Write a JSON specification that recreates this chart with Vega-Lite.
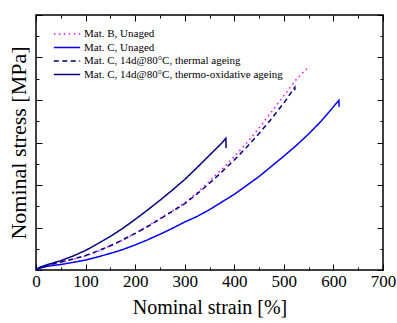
{
  "$schema": "https://vega.github.io/schema/vega-lite/v6.json",
  "autosize": "none",
  "padding": {"left": 36, "top": 15, "right": 14, "bottom": 53},
  "width": 347,
  "height": 255,
  "config": {
    "view": {"stroke": "black", "strokeWidth": 1.5},
    "font": "Liberation Serif",
    "axis": {"grid": false, "domain": false, "tickColor": "black", "labelColor": "black", "titleColor": "black", "labelFont": "Liberation Serif", "titleFont": "Liberation Serif", "titleFontWeight": "normal"},
    "legend": {"labelFont": "Liberation Serif", "labelFontSize": 11, "labelColor": "black"}
  },
  "datasets": {
    "curves": [
      {"s": "Mat. B, Unaged", "x": 0, "y": 0},
      {"s": "Mat. B, Unaged", "x": 5, "y": 0.04},
      {"s": "Mat. B, Unaged", "x": 10, "y": 0.06},
      {"s": "Mat. B, Unaged", "x": 20, "y": 0.09},
      {"s": "Mat. B, Unaged", "x": 30, "y": 0.12},
      {"s": "Mat. B, Unaged", "x": 50, "y": 0.18},
      {"s": "Mat. B, Unaged", "x": 75, "y": 0.25},
      {"s": "Mat. B, Unaged", "x": 100, "y": 0.33},
      {"s": "Mat. B, Unaged", "x": 125, "y": 0.44},
      {"s": "Mat. B, Unaged", "x": 150, "y": 0.57},
      {"s": "Mat. B, Unaged", "x": 175, "y": 0.71},
      {"s": "Mat. B, Unaged", "x": 200, "y": 0.86},
      {"s": "Mat. B, Unaged", "x": 225, "y": 1.03},
      {"s": "Mat. B, Unaged", "x": 250, "y": 1.21},
      {"s": "Mat. B, Unaged", "x": 275, "y": 1.39},
      {"s": "Mat. B, Unaged", "x": 300, "y": 1.58},
      {"s": "Mat. B, Unaged", "x": 325, "y": 1.82},
      {"s": "Mat. B, Unaged", "x": 350, "y": 2.09},
      {"s": "Mat. B, Unaged", "x": 375, "y": 2.37},
      {"s": "Mat. B, Unaged", "x": 400, "y": 2.67},
      {"s": "Mat. B, Unaged", "x": 425, "y": 2.99},
      {"s": "Mat. B, Unaged", "x": 450, "y": 3.34},
      {"s": "Mat. B, Unaged", "x": 475, "y": 3.72},
      {"s": "Mat. B, Unaged", "x": 500, "y": 4.1},
      {"s": "Mat. B, Unaged", "x": 525, "y": 4.48},
      {"s": "Mat. B, Unaged", "x": 540, "y": 4.67},
      {"s": "Mat. B, Unaged", "x": 549, "y": 4.76},
      {"s": "Mat. C, Unaged", "x": 0, "y": 0},
      {"s": "Mat. C, Unaged", "x": 5, "y": 0.03},
      {"s": "Mat. C, Unaged", "x": 10, "y": 0.05},
      {"s": "Mat. C, Unaged", "x": 20, "y": 0.08},
      {"s": "Mat. C, Unaged", "x": 30, "y": 0.1},
      {"s": "Mat. C, Unaged", "x": 50, "y": 0.13},
      {"s": "Mat. C, Unaged", "x": 75, "y": 0.18},
      {"s": "Mat. C, Unaged", "x": 100, "y": 0.235},
      {"s": "Mat. C, Unaged", "x": 125, "y": 0.31},
      {"s": "Mat. C, Unaged", "x": 150, "y": 0.39},
      {"s": "Mat. C, Unaged", "x": 175, "y": 0.48},
      {"s": "Mat. C, Unaged", "x": 200, "y": 0.59},
      {"s": "Mat. C, Unaged", "x": 225, "y": 0.71},
      {"s": "Mat. C, Unaged", "x": 250, "y": 0.84},
      {"s": "Mat. C, Unaged", "x": 275, "y": 0.98},
      {"s": "Mat. C, Unaged", "x": 300, "y": 1.13},
      {"s": "Mat. C, Unaged", "x": 325, "y": 1.26},
      {"s": "Mat. C, Unaged", "x": 350, "y": 1.42},
      {"s": "Mat. C, Unaged", "x": 375, "y": 1.6},
      {"s": "Mat. C, Unaged", "x": 400, "y": 1.78},
      {"s": "Mat. C, Unaged", "x": 425, "y": 1.99},
      {"s": "Mat. C, Unaged", "x": 450, "y": 2.2},
      {"s": "Mat. C, Unaged", "x": 475, "y": 2.44},
      {"s": "Mat. C, Unaged", "x": 500, "y": 2.68},
      {"s": "Mat. C, Unaged", "x": 525, "y": 2.93},
      {"s": "Mat. C, Unaged", "x": 550, "y": 3.2},
      {"s": "Mat. C, Unaged", "x": 575, "y": 3.5},
      {"s": "Mat. C, Unaged", "x": 600, "y": 3.84},
      {"s": "Mat. C, Unaged", "x": 611, "y": 3.99},
      {"s": "Mat. C, Unaged", "x": 611.5, "y": 3.84},
      {"s": "Mat. C, 14d@80°C, thermal ageing", "x": 0, "y": 0},
      {"s": "Mat. C, 14d@80°C, thermal ageing", "x": 5, "y": 0.045},
      {"s": "Mat. C, 14d@80°C, thermal ageing", "x": 10, "y": 0.07},
      {"s": "Mat. C, 14d@80°C, thermal ageing", "x": 20, "y": 0.1},
      {"s": "Mat. C, 14d@80°C, thermal ageing", "x": 30, "y": 0.13},
      {"s": "Mat. C, 14d@80°C, thermal ageing", "x": 50, "y": 0.19},
      {"s": "Mat. C, 14d@80°C, thermal ageing", "x": 75, "y": 0.26},
      {"s": "Mat. C, 14d@80°C, thermal ageing", "x": 100, "y": 0.34},
      {"s": "Mat. C, 14d@80°C, thermal ageing", "x": 125, "y": 0.45},
      {"s": "Mat. C, 14d@80°C, thermal ageing", "x": 150, "y": 0.57},
      {"s": "Mat. C, 14d@80°C, thermal ageing", "x": 175, "y": 0.71},
      {"s": "Mat. C, 14d@80°C, thermal ageing", "x": 200, "y": 0.86},
      {"s": "Mat. C, 14d@80°C, thermal ageing", "x": 225, "y": 1.02},
      {"s": "Mat. C, 14d@80°C, thermal ageing", "x": 250, "y": 1.2},
      {"s": "Mat. C, 14d@80°C, thermal ageing", "x": 275, "y": 1.38},
      {"s": "Mat. C, 14d@80°C, thermal ageing", "x": 300, "y": 1.56},
      {"s": "Mat. C, 14d@80°C, thermal ageing", "x": 325, "y": 1.79},
      {"s": "Mat. C, 14d@80°C, thermal ageing", "x": 350, "y": 2.04},
      {"s": "Mat. C, 14d@80°C, thermal ageing", "x": 375, "y": 2.31},
      {"s": "Mat. C, 14d@80°C, thermal ageing", "x": 400, "y": 2.59},
      {"s": "Mat. C, 14d@80°C, thermal ageing", "x": 425, "y": 2.89},
      {"s": "Mat. C, 14d@80°C, thermal ageing", "x": 450, "y": 3.21},
      {"s": "Mat. C, 14d@80°C, thermal ageing", "x": 475, "y": 3.56},
      {"s": "Mat. C, 14d@80°C, thermal ageing", "x": 500, "y": 3.93},
      {"s": "Mat. C, 14d@80°C, thermal ageing", "x": 522, "y": 4.3},
      {"s": "Mat. C, 14d@80°C, thermal ageing", "x": 522.5, "y": 4.16},
      {"s": "Mat. C, 14d@80°C, thermo-oxidative ageing", "x": 0, "y": 0},
      {"s": "Mat. C, 14d@80°C, thermo-oxidative ageing", "x": 5, "y": 0.045},
      {"s": "Mat. C, 14d@80°C, thermo-oxidative ageing", "x": 10, "y": 0.075},
      {"s": "Mat. C, 14d@80°C, thermo-oxidative ageing", "x": 20, "y": 0.115},
      {"s": "Mat. C, 14d@80°C, thermo-oxidative ageing", "x": 30, "y": 0.15},
      {"s": "Mat. C, 14d@80°C, thermo-oxidative ageing", "x": 50, "y": 0.22},
      {"s": "Mat. C, 14d@80°C, thermo-oxidative ageing", "x": 75, "y": 0.33},
      {"s": "Mat. C, 14d@80°C, thermo-oxidative ageing", "x": 100, "y": 0.46},
      {"s": "Mat. C, 14d@80°C, thermo-oxidative ageing", "x": 125, "y": 0.62},
      {"s": "Mat. C, 14d@80°C, thermo-oxidative ageing", "x": 150, "y": 0.79},
      {"s": "Mat. C, 14d@80°C, thermo-oxidative ageing", "x": 175, "y": 0.98},
      {"s": "Mat. C, 14d@80°C, thermo-oxidative ageing", "x": 200, "y": 1.19},
      {"s": "Mat. C, 14d@80°C, thermo-oxidative ageing", "x": 225, "y": 1.41},
      {"s": "Mat. C, 14d@80°C, thermo-oxidative ageing", "x": 250, "y": 1.64},
      {"s": "Mat. C, 14d@80°C, thermo-oxidative ageing", "x": 275, "y": 1.88},
      {"s": "Mat. C, 14d@80°C, thermo-oxidative ageing", "x": 300, "y": 2.13},
      {"s": "Mat. C, 14d@80°C, thermo-oxidative ageing", "x": 325, "y": 2.41},
      {"s": "Mat. C, 14d@80°C, thermo-oxidative ageing", "x": 350, "y": 2.7},
      {"s": "Mat. C, 14d@80°C, thermo-oxidative ageing", "x": 375, "y": 2.99},
      {"s": "Mat. C, 14d@80°C, thermo-oxidative ageing", "x": 383, "y": 3.1},
      {"s": "Mat. C, 14d@80°C, thermo-oxidative ageing", "x": 383.5, "y": 2.87}
    ]
  },
  "data": {"name": "curves"},
  "encoding": {
    "x": {"field": "x", "type": "quantitative", "scale": {"domain": [0, 700], "nice": false, "zero": false}},
    "y": {"field": "y", "type": "quantitative", "scale": {"domain": [0, 6], "nice": false, "zero": false}}
  },
  "layer": [
    {
      "mark": {"type": "line", "strokeWidth": 1.5},
      "encoding": {
        "x": {"field": "x", "type": "quantitative", "axis": {"orient": "bottom", "values": [0, 100, 200, 300, 400, 500, 600, 700], "ticks": false, "labelFont": "Liberation Serif", "labelFontSize": 17, "labelPadding": 3, "labelFlush": false, "labelOverlap": false, "title": "Nominal strain [%]", "titleFontSize": 20, "titlePadding": 8}},
        "y": {"field": "y", "type": "quantitative", "axis": {"orient": "left", "ticks": false, "labels": false, "title": "Nominal stress [MPa]", "titleFontSize": 22, "titlePadding": 6}},
        "color": {"field": "s", "type": "nominal", "scale": {"domain": ["Mat. B, Unaged", "Mat. C, Unaged", "Mat. C, 14d@80°C, thermal ageing", "Mat. C, 14d@80°C, thermo-oxidative ageing"], "range": ["#ff00ff", "#0000ff", "#000080", "#000080"]},
          "legend": {"title": null, "orient": "none", "legendX": 24, "legendY": 12, "symbolType": "M-2.2,0H2.2", "symbolSize": 144, "symbolStrokeWidth": 1.5, "labelFont": "Liberation Serif", "labelFontSize": 11, "labelColor": "black", "labelOffset": 10, "rowPadding": 1.5, "padding": 0, "labelLimit": 300}},
        "strokeDash": {"field": "s", "type": "nominal", "scale": {"domain": ["Mat. B, Unaged", "Mat. C, Unaged", "Mat. C, 14d@80°C, thermal ageing", "Mat. C, 14d@80°C, thermo-oxidative ageing"], "range": [[1.5, 3.5], [1, 0], [5, 3.5], [1, 0]]}, "legend": {"title": null, "orient": "none", "legendX": 24, "legendY": 12, "symbolType": "M-2.2,0H2.2", "symbolSize": 144, "symbolStrokeWidth": 1.5, "labelFont": "Liberation Serif", "labelFontSize": 11, "labelColor": "black", "labelOffset": 10, "rowPadding": 1.5, "padding": 0, "labelLimit": 300}}
      }
    },
    {
      "mark": {"type": "point", "opacity": 0},
      "encoding": {
        "x": {"field": "x", "type": "quantitative", "axis": {"orient": "bottom", "values": [0, 100, 200, 300, 400, 500, 600, 700], "tickSize": -6, "labels": false, "title": null}},
        "y": {"field": "y", "type": "quantitative", "axis": {"orient": "left", "values": [0, 1, 2, 3, 4, 5, 6], "tickSize": -6, "labels": false, "title": null}}
      }
    },
    {
      "mark": {"type": "point", "opacity": 0},
      "encoding": {
        "x": {"field": "x", "type": "quantitative", "axis": {"orient": "bottom", "values": [50, 150, 250, 350, 450, 550, 650], "tickSize": -3, "labels": false, "title": null}},
        "y": {"field": "y", "type": "quantitative", "axis": {"orient": "left", "values": [0.5, 1.5, 2.5, 3.5, 4.5, 5.5], "tickSize": -3, "labels": false, "title": null}}
      }
    },
    {
      "mark": {"type": "point", "opacity": 0},
      "encoding": {
        "x": {"field": "x", "type": "quantitative", "axis": {"orient": "top", "values": [0, 100, 200, 300, 400, 500, 600, 700], "tickSize": -6, "labels": false, "title": null}},
        "y": {"field": "y", "type": "quantitative", "axis": {"orient": "right", "values": [0, 1, 2, 3, 4, 5, 6], "tickSize": -6, "labels": false, "title": null}}
      }
    },
    {
      "mark": {"type": "point", "opacity": 0},
      "encoding": {
        "x": {"field": "x", "type": "quantitative", "axis": {"orient": "top", "values": [50, 150, 250, 350, 450, 550, 650], "tickSize": -3, "labels": false, "title": null}},
        "y": {"field": "y", "type": "quantitative", "axis": {"orient": "right", "values": [0.5, 1.5, 2.5, 3.5, 4.5, 5.5], "tickSize": -3, "labels": false, "title": null}}
      }
    }
  ],
  "resolve": {"axis": {"x": "independent", "y": "independent"}}
}
